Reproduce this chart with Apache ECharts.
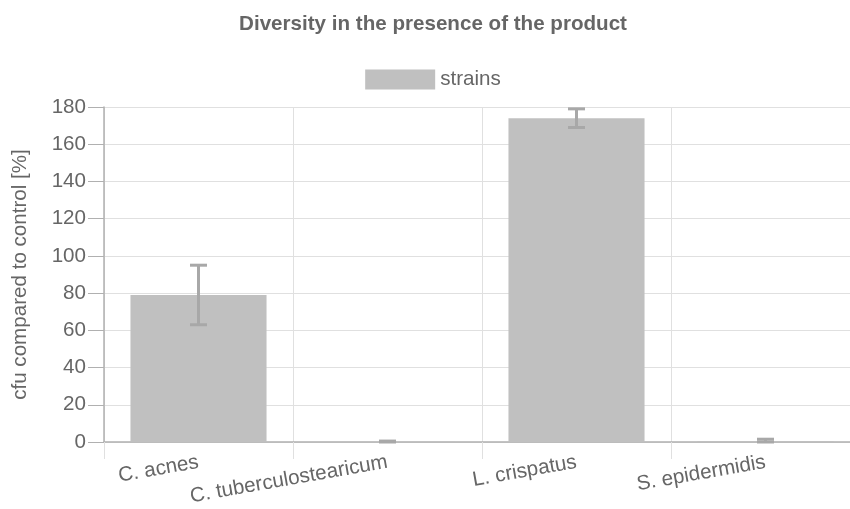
<!DOCTYPE html>
<html><head><meta charset="utf-8">
<script src="https://cdn.jsdelivr.net/npm/echarts@6/dist/echarts.min.js"></script>
<style>html,body{margin:0;padding:0;background:#fff;overflow:hidden}#c{width:866px;height:509px}</style>
</head><body><div id="c"></div>
<script>
const categories = ['C. acnes', 'C. tuberculostearicum', 'L. crispatus', 'S. epidermidis'];
const values = [79, 0.2, 174, 0.6];
const errLow = [63, 0, 169, 0];
const errHigh = [95, 0.5, 179, 1.5];
const yTicks = [0, 20, 40, 60, 80, 100, 120, 140, 160, 180];

const chart = echarts.init(document.getElementById('c'));
const font = 'Liberation Sans, Arial, sans-serif';
const fs = 20.6;
chart.setOption({
  animation: false,
  textStyle: {fontFamily: font},
  title: {text: 'Diversity in the presence of the product', left: 'center', top: 9,
    textStyle: {fontFamily: font, fontSize: fs, fontWeight: 'bold', color: '#666'}},
  legend: {top: 64, left: 'center', itemWidth: 70, itemHeight: 20, itemGap: 10,
    textStyle: {fontFamily: font, fontSize: fs, color: '#666'},
    data: [{name: 'strains', icon: 'rect'}]},
  grid: {left: 104, right: 6, top: 107, bottom: 67, containLabel: false},
  xAxis: {type: 'category', data: categories,
    axisLine: {lineStyle: {color: '#b0b0b0', width: 1.5}},
    axisTick: {show: true, length: 17, lineStyle: {color: '#e0e0e0'}},
    splitLine: {show: true, lineStyle: {color: '#e0e0e0'}},
    axisLabel: {rotate: 10, fontSize: fs, color: '#666', margin: 20, fontFamily: font, interval: 0}},
  yAxis: {type: 'value', min: yTicks[0], max: yTicks[yTicks.length - 1], interval: 20,
    name: 'cfu compared to control [%]', nameLocation: 'middle', nameGap: 73,
    nameTextStyle: {fontSize: fs, color: '#666', fontFamily: font},
    axisLine: {show: true, lineStyle: {color: '#b0b0b0', width: 1.5}},
    axisTick: {show: true, length: 16, lineStyle: {color: '#b0b0b0'}},
    splitLine: {lineStyle: {color: '#e0e0e0'}},
    axisLabel: {fontSize: fs, color: '#666', margin: 18, fontFamily: font}},
  series: [
    {name: 'strains', type: 'bar', data: values, barWidth: '72%',
      itemStyle: {color: '#c0c0c0'}},
    {name: 'err', type: 'custom', data: categories.map((c, i) => [i, errLow[i], errHigh[i]]),
      z: 5,
      renderItem: function (params, api) {
        const i = api.value(0);
        const lo = api.coord([i, api.value(1)]);
        const hi = api.coord([i, api.value(2)]);
        const w = 8.5;
        const st = {stroke: '#a8a8a8', lineWidth: 3};
        return {type: 'group', children: [
          {type: 'line', shape: {x1: lo[0], y1: lo[1], x2: hi[0], y2: hi[1]}, style: st},
          {type: 'line', shape: {x1: hi[0] - w, y1: hi[1], x2: hi[0] + w, y2: hi[1]}, style: st},
          {type: 'line', shape: {x1: lo[0] - w, y1: lo[1], x2: lo[0] + w, y2: lo[1]}, style: st}
        ]};
      }}
  ]
});
</script></body></html>
